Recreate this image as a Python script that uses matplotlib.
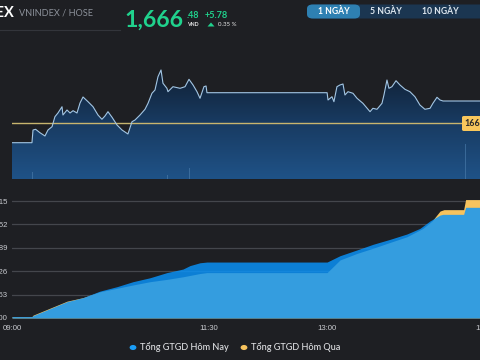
import numpy as np
import matplotlib
matplotlib.use('Agg')
import matplotlib.pyplot as plt
from matplotlib.colors import LinearSegmentedColormap
from matplotlib.patches import FancyBboxPatch, Rectangle, Polygon, Circle

# ---------------- data ----------------
price_times = [0, 15.2, 16, 18, 21.3, 25.1, 27.4, 30.5, 32.7, 35, 38.1, 38.8, 41.9, 44.2,
               46.5, 49.5, 51.8, 54.1, 57.9, 61.7, 65.5, 68.5, 70.8, 73.1, 76.2, 80, 83.8,
               88.3, 91.4, 93.7, 97.5, 101.3, 103.6, 106.6, 108.9, 111.2, 113.5, 115, 118,
               118.8, 122.6, 128, 131.8, 134.8, 137.9, 140.9, 143.2, 146.2, 147.8, 148.5, 150,
               240, 240.7, 243.7, 245.2, 247.5, 249.8, 252.1, 253.6, 255.9, 259.7, 262.8,
               267.3, 272.7, 274.9, 278, 281.8, 283.3, 285.6, 287.1, 289.4, 292.5, 295.5,
               299.3, 303.1, 306.9, 310.7, 314.5, 318.4, 320.6, 323.7, 326, 328.3, 330]
price_values = [1655.67, 1655.67, 1658.96, 1659.14, 1658.26, 1657.41, 1658.96, 1659.82,
                1662.41, 1663.37, 1665.00, 1662.85, 1664.15, 1663.37, 1663.97, 1663.37,
                1665.96, 1667.52, 1666.30, 1665.00, 1662.85, 1661.74, 1662.59, 1663.71,
                1662.26, 1660.26, 1658.96, 1657.93, 1661.11, 1661.56, 1662.85, 1664.33,
                1665.88, 1668.48, 1669.33, 1672.78, 1674.52, 1671.07, 1669.77, 1668.89,
                1670.19, 1669.77, 1670.19, 1672.10, 1670.63, 1668.89, 1667.18, 1670.19,
                1670.37, 1668.63, 1668.63,
                1668.63, 1666.74, 1667.59, 1666.30, 1670.19, 1670.63, 1670.89, 1668.04,
                1668.89, 1668.48, 1667.18, 1665.88, 1663.71, 1664.59, 1664.33, 1665.88,
                1668.04, 1671.92, 1669.77, 1670.19, 1671.74, 1670.63, 1669.51, 1668.89,
                1667.59, 1665.44, 1664.33, 1664.59, 1665.88, 1667.44, 1666.74, 1666.48,
                1666.48]
ref_price = 1660.70
ref_label = "1660.70"

vol_times = [15.5, 118.5, 135, 345.5]
vol_values = [6, 3, 9, 30]

nay_times = [0, 15.2, 16, 41.9, 54.1, 67, 80, 92.1, 105.1, 118, 130.2, 135.6, 143.2, 148.5,
             150, 240, 249.8, 262.8, 275, 287.9, 300.8, 310.7, 318.4, 320.6, 326, 328.3,
             330, 344, 345.5]
nay_values = [0.28, 0.28, 0.46, 3.24, 4.03, 5.32, 6.20, 7.18, 7.96, 8.98, 9.68, 10.37,
              10.93, 11.07, 11.07, 11.07, 12.32, 13.47, 14.58, 15.56, 16.62, 17.73, 19.21,
              19.54, 20.37, 20.51, 20.51, 20.51, 21.90]
qua_times = [0, 15.2, 16, 41.9, 54.1, 67, 80, 92.1, 105.1, 118, 130.2, 143.2, 148.5, 150,
             240, 249.8, 262.8, 275, 287.9, 300.8, 313, 320, 326, 329, 330, 344, 345.5]
qua_values = [0.28, 0.28, 0.56, 3.33, 4.03, 5.19, 5.88, 6.53, 7.18, 7.64, 8.15, 8.80, 8.98,
              8.98, 8.98, 11.48, 12.78, 13.80, 14.95, 16.07, 17.73, 19.21, 21.16, 21.44,
              21.44, 21.44, 23.43]

y_ticks = [0, 4.63, 9.26, 13.89, 18.52, 23.15]
x_ticks = [0, 150, 240, 360]
x_labels = ["09:00", "11:30", "13:00", "15:00"]
legend_labels = ["Tổng GTGD Hôm Nay", "Tổng GTGD Hôm Qua"]
buttons = ["1 NGÀY", "5 NGÀY", "10 NGÀY"]

# ---------------- style ----------------
BG = '#1e1f23'
C_NAY = '#0995fd'
C_QUA = '#f7c35e'
GREEN = '#20d28d'
FONT = ['Lato', 'DejaVu Sans']

W, H = 480, 360
fig = plt.figure(figsize=(4.8, 3.6), dpi=100, facecolor=BG)


def fx(x):
    return x / W


def fy(y):
    return 1 - y / H


XMAX = 365.6
left = fx(12)
width = fx(492) - left

# ---------------- top price chart ----------------
ax1 = fig.add_axes([left, fy(179), width, (179 - 62) / H])
ax1.set_facecolor('none')
ymin, ymax = 1646.26, 1676.59
ax1.set_xlim(0, XMAX)
ax1.set_ylim(ymin, ymax)
ax1.axis('off')

pt = np.append(price_times, XMAX)
pv = np.append(price_values, price_values[-1])
poly = ax1.fill_between(pt, pv, ymin, facecolor='none', edgecolor='none')
cmap = LinearSegmentedColormap.from_list('g', ['#1f5287', '#183a60', '#0f1b2c'])
grad = np.linspace(0, 1, 256).reshape(-1, 1)
img = ax1.imshow(grad, extent=[0, XMAX, ymin, ymax], origin='lower', aspect='auto',
                 cmap=cmap, zorder=1, interpolation='bicubic')
img.set_clip_path(poly.get_paths()[0], transform=ax1.transData)

ax2 = ax1.twinx()
ax2.set_ylim(0, 100)
ax2.set_xlim(0, XMAX)
ax2.axis('off')
ax2.bar(vol_times, vol_values, width=0.6, color='#4d7fae', alpha=0.6, zorder=2)

ax1.plot(pt, pv, color='#a3c6e4', lw=0.8, zorder=4)
ax1.axhline(ref_price, color='#c8b56e', lw=1.0, zorder=3)

# reference label box
fig.patches.append(FancyBboxPatch((fx(462), fy(131)), fx(30), (131 - 116) / H,
                                  boxstyle='round,pad=0,rounding_size=0.004',
                                  transform=fig.transFigure, facecolor='#f8c75c',
                                  edgecolor='none', zorder=5))
fig.text(fx(464), fy(123.5), ref_label, color='#2a2a2a', fontsize=6.5, fontweight='bold',
         ha='left', va='center', family=FONT, zorder=6)

# ---------------- bottom cumulative chart ----------------
ax3 = fig.add_axes([left, fy(318), width, (318 - 195) / H])
ax3.set_facecolor('none')
ax3.set_xlim(0, XMAX)
ax3.set_ylim(0, 23.15 + 6 * 23.15 / 117)
for s in ax3.spines.values():
    s.set_visible(False)
ax3.set_yticks(y_ticks)
ax3.set_yticklabels([f"{v:.2f}" for v in y_ticks])
ax3.set_xticks(x_ticks)
ax3.set_xticklabels(x_labels)
ax3.tick_params(length=0, colors='#c9cbd0', labelsize=5.6, pad=3)
ax3.tick_params(axis='x', pad=5)
for lab in ax3.get_xticklabels() + ax3.get_yticklabels():
    lab.set_family(['Liberation Sans', 'DejaVu Sans'])
ax3.grid(axis='y', color='#44464c', lw=0.9)
ax3.set_axisbelow(True)

qt = np.append(qua_times, XMAX)
qv = np.append(qua_values, qua_values[-1])
nt = np.append(nay_times, XMAX)
nv = np.append(nay_values, nay_values[-1])
ax3.fill_between(qt, qv, 0, color=C_QUA, lw=0, zorder=2)
ax3.fill_between(nt, nv, 0, color=C_NAY, alpha=0.82, lw=0, zorder=3)

# ---------------- legend ----------------
fig.patches.append(Circle((fx(133), fy(347.5)), 3.4 / W, transform=fig.transFigure,
                          facecolor='#1a9cf5', edgecolor='none'))
fig.text(fx(140.5), fy(347), legend_labels[0], color='#e2e3e6', fontsize=6.6,
         ha='left', va='center', family=FONT, fontweight='medium')
fig.patches.append(Circle((fx(244), fy(347.5)), 3.4 / W, transform=fig.transFigure,
                          facecolor=C_QUA, edgecolor='none'))
fig.text(fx(251), fy(347), legend_labels[1], color='#e2e3e6', fontsize=6.6,
         ha='left', va='center', family=FONT, fontweight='medium')

# ---------------- header ----------------
fig.text(fx(13.5), fy(13), "VNINDEX", color='white', fontsize=10.5, fontweight='bold',
         ha='right', va='center', family=FONT)
fig.text(fx(19), fy(13), "VNINDEX / HOSE", color='#8d929b', fontsize=6.6,
         ha='left', va='center', family=FONT)
fig.lines.append(plt.Line2D([0, fx(120)], [fy(29.5), fy(29.5)], transform=fig.transFigure,
                            color='#33353b', lw=0.8))
fig.text(fx(124), fy(20), "1,666", color=GREEN, fontsize=16.6, fontweight='bold',
         ha='left', va='center', family=FONT)
fig.text(fx(187), fy(15), ".48", color=GREEN, fontsize=6.4, fontweight='bold',
         ha='left', va='center', family=FONT)
fig.text(fx(187), fy(24.5), "VND", color='#e6e6e6', fontsize=3.8, fontweight='bold',
         ha='left', va='center', family=FONT)
fig.text(fx(205), fy(15), "+5.78", color=GREEN, fontsize=6.6, fontweight='bold',
         ha='left', va='center', family=FONT)
fig.patches.append(Polygon([(fx(207.5), fy(26.5)), (fx(214.5), fy(26.5)), (fx(211), fy(22.5))],
                           closed=True, transform=fig.transFigure, facecolor=GREEN,
                           edgecolor='none'))
fig.text(fx(218.5), fy(24.5), "0.35 %", color='#e6e6e6', fontsize=4.4,
         ha='left', va='center', family=FONT)

# buttons
fig.patches.append(FancyBboxPatch((fx(307), fy(18.5)), fx(190), 14 / H,
                                  boxstyle='round,pad=0,rounding_size=0.012',
                                  transform=fig.transFigure, facecolor='#1b3651',
                                  edgecolor='none'))
fig.patches.append(FancyBboxPatch((fx(307), fy(18.5)), fx(53), 14 / H,
                                  boxstyle='round,pad=0,rounding_size=0.012',
                                  transform=fig.transFigure, facecolor='#2e80b2',
                                  edgecolor='none'))
for label, cx, col in zip(buttons, [333.5, 386, 440], ['white', '#dfe8f0', '#dfe8f0']):
    fig.text(fx(cx), fy(11.5), label, color=col, fontsize=6.2, fontweight='bold',
             ha='center', va='center', family=FONT)

fig.savefig('out.png', dpi=100, facecolor=BG)
